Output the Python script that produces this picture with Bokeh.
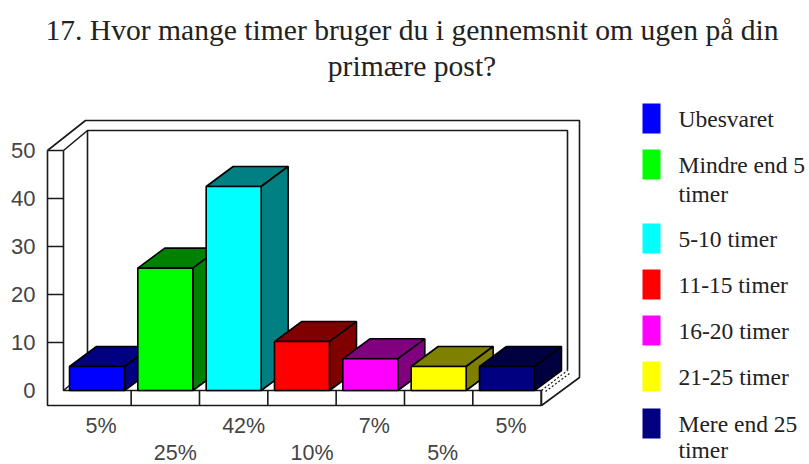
from bokeh.plotting import figure
from bokeh.models import Range1d, ColumnDataSource
from bokeh.core.properties import value
from bokeh.embed import file_html
from bokeh.resources import INLINE

title_lines = ["17. Hvor mange timer bruger du i gennemsnit om ugen på din", "primære post?"]
categories = ["Ubesvaret", "Mindre end 5\ntimer", "5-10 timer", "11-15 timer", "16-20 timer", "21-25 timer", "Mere end 25\ntimer"]
values = [5, 25.5, 42.5, 10.2, 6.6, 5, 5]
pct_labels = ["5%", "25%", "42%", "10%", "7%", "5%", "5%"]
y_ticks = [0, 10, 20, 30, 40, 50]
front_colors = ["#0000FF", "#00FF00", "#00FFFF", "#FF0000", "#FF00FF", "#FFFF00", "#000080"]
dark_colors = ["#000080", "#008000", "#008080", "#800000", "#800080", "#808000", "#000040"]

W, H = 809, 464
X0, XSTEP = 96.5, 68.33   # pixel of category 0, pixels per category
Y0, YSTEP = 390.0, 4.8    # pixel of value 0, pixels per value unit
ink = "#1a1a1a"


def dx(px):
    return (px - X0) / XSTEP


def dy(py):
    return (Y0 - py) / YSTEP


p = figure(width=W, height=H, output_backend="svg", toolbar_location=None,
           x_range=Range1d(dx(0), dx(W)), y_range=Range1d(dy(H), dy(0)),
           min_border=0, outline_line_color=None, x_axis_location=None, y_axis_location=None)
p.grid.visible = False


def seg(x, y, width=1.6, color=ink, dash="solid"):
    p.line([dx(v) for v in x], [dy(v) for v in y], line_color=color, line_width=width, line_dash=dash)


# chart box: outer and inner wall
seg([47, 85, 579, 579, 541], [150, 120, 120, 377, 405])
seg([63, 87, 567, 567], [150, 130, 130, 370])
seg([87, 87], [130, 370])
seg([47, 63], [150, 150])
seg([47, 47, 541, 541, 63, 63], [150, 405, 405, 390, 390, 150])
seg([63, 87], [390, 370])
seg([541, 567], [390, 370], width=1.2, dash="2 2")
seg([545, 569], [391, 373], width=1.2, dash="2 2")
for i in range(len(values)):
    xb = X0 + (i + 0.5) * XSTEP
    seg([xb, xb], [390, 405])
for t in y_ticks[1:-1]:
    seg([47, 63], [Y0 - t * YSTEP] * 2)

# 3D bars
half = 27.5 / XSTEP
ddx, ddy = 27 / XSTEP, 20 / YSTEP
for i, v in enumerate(values):
    l, r = i - half, i + half
    p.patch([l, r, r + ddx, l + ddx], [v, v, v + ddy, v + ddy], fill_color=dark_colors[i],
            line_color="black", line_width=1.6)
    p.patch([r, r + ddx, r + ddx, r], [0, ddy, v + ddy, v], fill_color=dark_colors[i],
            line_color="black", line_width=1.6)
    p.quad(left=l, right=r, bottom=0, top=v, fill_color=front_colors[i], line_color="black", line_width=1.6)

# y tick labels
p.text(x=[dx(35)] * len(y_ticks), y=y_ticks, text=[str(t) for t in y_ticks], text_align="right",
       text_baseline="middle", text_font=value("Liberation Sans"), text_font_size="22px", text_color="#444444")

# percent labels, staggered on two rows and left aligned
src = ColumnDataSource(dict(x=[i - 11.5 / XSTEP for i in range(len(pct_labels))],
                            y=[dy(425 if i % 2 == 0 else 452) for i in range(len(pct_labels))],
                            t=pct_labels))
p.text(x="x", y="y", text="t", source=src, text_align="left", text_baseline="middle",
       text_font=value("Liberation Sans"), text_font_size="21.5px", text_color="#444444")

# title
for line, py in zip(title_lines, [29, 65]):
    p.text(x=[dx(411.5)], y=[dy(py)], text=[line], text_align="center", text_baseline="middle",
           text_font=value("Liberation Serif"), text_font_size="29.6px", text_color="#222222")

# legend
rows = [117, 163, 237, 283, 329, 375, 422]
for name, col, py in zip(categories, front_colors, rows):
    p.quad(left=dx(642), right=dx(660), top=dy(py - 14), bottom=dy(py + 16), fill_color=col, line_color=None)
    for j, part in enumerate(name.split("\n")):
        p.text(x=[dx(678)], y=[dy(min(py + 1 + j * 29.5, 449))], text=[part], text_align="left", text_baseline="middle",
               text_font=value("Liberation Serif"), text_font_size="23.5px", text_color="#222222")

open("out.html", "w").write(file_html(p, INLINE))
